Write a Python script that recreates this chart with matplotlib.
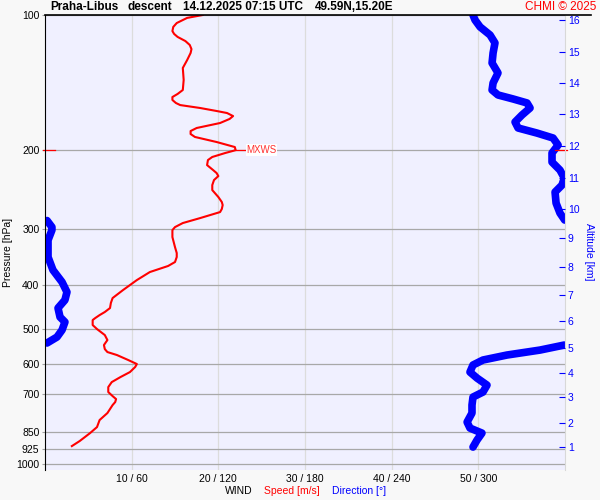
import numpy as np
import matplotlib
matplotlib.use("Agg")
import matplotlib.pyplot as plt
from matplotlib.ticker import NullLocator
from matplotlib.lines import Line2D

plt.rcParams['font.family'] = ['Liberation Sans', 'DejaVu Sans']

# wind speed profile [m/s] vs pressure [hPa]
speed_p = [100, 101.5, 104.2, 106.3, 108.6, 110.2, 111.9, 114.3, 116.6, 119.1,
           121.5, 126.0, 131.2, 139.5, 146.9, 149.9, 152.3, 154.6, 157.0, 158.7,
           161.1, 163.6, 165.3, 167.9, 170.4, 174.0, 178.5, 181.3, 184.1, 186.9,
           191.8, 196.8, 200, 202.9, 207.1, 210.4, 215.9, 221.5, 224.9, 228.4,
           233.1, 239.2, 245.4, 254.3, 260.9, 265.0, 270.4, 274.7, 283.3, 290.6,
           296.7, 301.3, 312.3, 328.8, 338.9, 345.9, 354.9, 362.2, 373.6, 389.3,
           409.8, 426.9, 437.8, 449.4, 458.6, 465.9, 473.0, 477.9, 490.3, 500.5,
           516.1, 529.5, 543.2, 554.6, 563.1, 571.8, 586.6, 598.8, 608.1, 624.0,
           640.3, 656.9, 673.9, 691.3, 705.8, 716.6, 727.7, 739.0, 769.9, 798.0,
           827.3, 853.2, 888.8, 912.0]
speed = [18.2, 16.4, 15.2, 14.8, 14.7, 14.9, 15.3, 16.2, 16.7, 16.9,
         16.8, 16.4, 15.9, 16.0, 15.9, 15.3, 14.7, 14.7, 15.1, 15.6,
         17.9, 19.8, 21.0, 21.7, 21.3, 20.2, 17.5, 16.8, 16.8, 17.3,
         19.8, 21.9, 22.0, 20.8, 19.3, 18.8, 18.7, 19.4, 19.8, 20.0,
         19.5, 19.3, 19.3, 20.0, 20.4, 20.5, 20.4, 20.2, 17.9, 15.9,
         15.0, 14.7, 14.7, 15.0, 15.2, 15.2, 15.0, 14.2, 12.1, 10.6,
         9.0, 7.8, 7.6, 7.5, 6.9, 6.3, 5.8, 5.5, 5.5, 6.0,
         6.9, 7.2, 6.8, 6.9, 7.2, 8.3, 9.6, 10.6, 10.4, 9.8,
         8.7, 7.7, 7.3, 7.3, 7.8, 8.2, 8.1, 7.8, 7.2, 6.3,
         6.0, 5.2, 4.0, 3.1]

# wind direction [deg] vs pressure [hPa]
dir_p = [100, 102.6, 106.3, 110.8, 115.4, 121.5, 127.9, 134.6, 141.7, 146.9,
         150.7, 153.8, 157.0, 161.1, 167.0, 173.1, 178.5, 183.2, 187.9, 194.8,
         202.9, 212.6, 221.5, 230.7, 239.2, 247.9, 262.3, 276.1, 286.2,
         286.9, 296.7, 301.3, 317.3, 345.9, 369.8, 393.3, 414.0, 431.3, 449.4,
         470.6, 482.8, 503.0, 521.4, 537.6,
         543.2, 557.4, 571.8, 586.6, 601.8, 624.0, 643.6, 667.1, 691.3, 709.3,
         739.0, 769.9, 806.3, 831.6, 853.2, 884.1, 916.6]
direction = [296.3, 297.7, 301.2, 308.1, 311.5, 310.2, 309.5, 313.6, 310.2, 309.5,
             313.6, 324.0, 333.7, 335.8, 330.2, 325.4, 327.5, 340.6, 351.7, 355.2,
             351.0, 351.0, 356.5, 359.5, 357.9, 353.1, 353.8, 356.5, 359.8,
             1.4, 4.8, 4.8, 2.1, 2.1, 5.5, 11.8, 15.2, 13.8, 9.0,
             10.4, 13.8, 11.8, 8.3, 1.4,
             359.5, 342.7, 319.8, 303.2, 296.3, 294.2, 299.1, 306.0, 303.2, 296.3,
             295.6, 295.6, 292.2, 294.2, 302.5, 299.1, 296.3]

p_levels = [100, 200, 300, 400, 500, 600, 700, 850, 925, 1000]
alt_km = list(range(1, 17))
alt_p = [915.3, 810.2, 708.9, 628.4, 552.5, 480.8, 420.1, 364.8, 313.3, 270.7,
         230.5, 195.6, 166.2, 141.5, 120.7, 102.6]
x_ticks = [10, 20, 30, 40, 50]
x_labels = ['10 / 60', '20 / 120', '30 / 180', '40 / 240', '50 / 300']
mxws_p = 200
mxws_speed = 22.0

fig = plt.figure(figsize=(6, 5), dpi=100, facecolor='#f8f8f8')
ax = fig.add_axes([0.075, 0.06, 0.8667, 0.91])
ax.set_facecolor('#f0f0ff')
ax.set_yscale('log')
ax.set_ylim(1031, 100)
ax.set_xlim(0, 60)

ax.set_yticks(p_levels)
ax.set_yticklabels([str(p) for p in p_levels], fontsize=7.5)
ax.yaxis.set_minor_locator(NullLocator())
ax.tick_params(axis='y', length=2, color='#a0a0a0', pad=2)
ax.set_xticks(x_ticks)
ax.set_xticklabels(x_labels, fontsize=7.5)
ax.tick_params(axis='x', length=0, pad=3)

ax.yaxis.grid(True, color='#a8a8a8', lw=0.9)
ax.xaxis.grid(True, color='#dcdcdc', lw=0.9)
ax.set_axisbelow(True)

ax.spines['bottom'].set_visible(False)
ax.spines['top'].set_visible(False)
ax.spines['right'].set_color('#d8d8d8')
ax.spines['left'].set_color('black')

# direction on same axis: 360 deg -> 60 units, broken where it wraps
d = np.array(direction, dtype=float)
pp = np.array(dir_p, dtype=float)
xs, ys = [d[0] / 6], [pp[0]]
for i in range(1, len(d)):
    if abs(d[i] - d[i - 1]) > 180:
        xs.append(np.nan)
        ys.append(np.nan)
    xs.append(d[i] / 6)
    ys.append(pp[i])
ax.plot(xs, ys, color='#0000ff', lw=5.5, solid_capstyle='round', solid_joinstyle='round')

ax.plot(speed, speed_p, color='#ff0000', lw=1.5, solid_joinstyle='round')

# max wind marks
ax.plot([mxws_speed, mxws_speed + 1.2], [mxws_p, mxws_p], color='#ff0000', lw=0.9)
ax.text(mxws_speed + 1.25, mxws_p, 'MXWS', color='#ff3030', fontsize=7, va='center', ha='left',
        bbox=dict(facecolor='white', edgecolor='none', pad=0.5))
ax.plot([-0.25, 1.15], [mxws_p, mxws_p], color='#ff0000', lw=0.9, clip_on=False)
ax.plot([58.8, 60.2], [mxws_p, mxws_p], color='#ff0000', lw=0.9, clip_on=False)

# altitude axis
ax2 = ax.twinx()
ax2.set_yscale('log')
ax2.set_ylim(1031, 100)
ax2.set_yticks(alt_p)
ax2.set_yticklabels([str(a) for a in alt_km], fontsize=7.5, color='#0000ff')
ax2.yaxis.set_minor_locator(NullLocator())
ax2.tick_params(axis='y', direction='in', length=4, color='#0000ff', pad=2)
for s in ax2.spines.values():
    s.set_visible(False)

# top black line running past the plot
fig.add_artist(Line2D([45 / 600, 591 / 600], [0.97, 0.97], color='black', lw=1.2))

fig.text(50 / 600, 1 - 7.5 / 500, 'Praha-Libus', fontsize=8.5, fontweight='bold', va='center')
fig.text(128 / 600, 1 - 7.5 / 500, 'descent', fontsize=8.5, fontweight='bold', va='center')
fig.text(183 / 600, 1 - 7.5 / 500, '14.12.2025 07:15 UTC', fontsize=8.5, fontweight='bold', va='center')
fig.text(315 / 600, 1 - 7.5 / 500, '49.59N,15.20E', fontsize=8.5, fontweight='bold', va='center')
fig.text(596 / 600, 1 - 7.5 / 500, 'CHMI © 2025', fontsize=8.5, color='#ff0000', va='center', ha='right')

fig.text(8 / 600, 1 - 252 / 500, 'Pressure [hPa]', fontsize=7.5, rotation=90, va='center', ha='center')
fig.text(589 / 600, 1 - 252 / 500, 'Altitude [km]', fontsize=7.5, rotation=270, va='center', ha='center',
         color='#0000ff')

fig.text(225 / 600, 1 - 491 / 500, 'WIND', fontsize=7.5, va='center')
fig.text(264 / 600, 1 - 491 / 500, 'Speed [m/s]', fontsize=7.5, va='center', color='#ff0000')
fig.text(332 / 600, 1 - 491 / 500, 'Direction [°]', fontsize=7.5, va='center', color='#0000ff')

fig.savefig('out.png', dpi=100, facecolor=fig.get_facecolor())
